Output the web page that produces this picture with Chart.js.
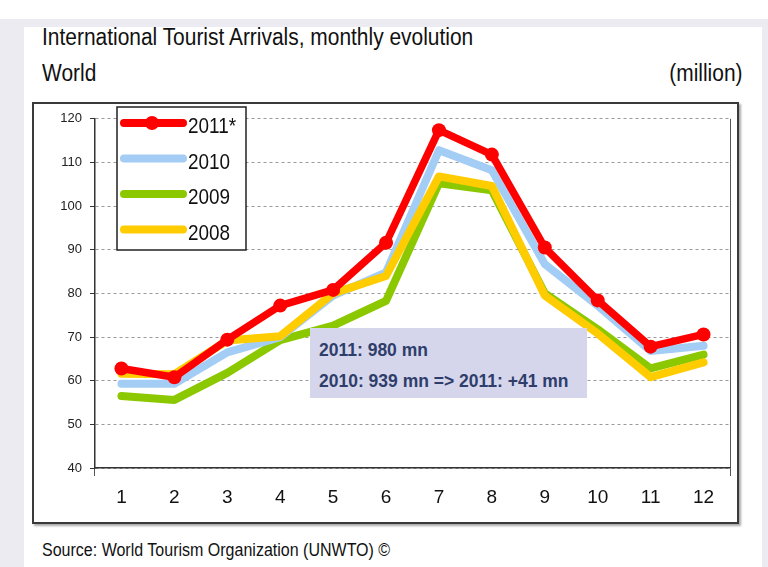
<!DOCTYPE html>
<html>
<head>
<meta charset="utf-8">
<script src="https://cdn.jsdelivr.net/npm/chart.js@4"></script>
<style>
  html, body { margin: 0; padding: 0; }
  body { width: 768px; height: 567px; overflow: hidden; background: #fff; position: relative;
         font-family: "Liberation Sans", Arial, sans-serif; color: #111; }
  .bg { position: absolute; left: 0; top: 19px; width: 768px; height: 548px; background: #ebebf1; }
  .panel { position: absolute; left: 24px; top: 27px; width: 738px; height: 540px; background: #fff; }
  .txt { position: absolute; white-space: nowrap; transform-origin: left center; }
  #title { left: 42px; top: 24px; font-size: 23px; transform: scaleX(0.91); }
  #sub { left: 42px; top: 60px; font-size: 23px; transform: scaleX(0.91); }
  #unit { right: 26px; top: 60px; font-size: 23px; transform: scaleX(0.91); transform-origin: right center; }
  #source { left: 42px; top: 540px; font-size: 17.5px; transform: scaleX(0.915); }
  .frame { position: absolute; left: 32px; top: 102px; width: 707px; height: 422px; box-sizing: border-box;
           border: 2px solid #3a3a3a; box-shadow: 2px 2px 2px #aaa; background: #fff; }
  .wrap { position: absolute; left: 33px; top: 103px; width: 704px; height: 419px; }
  .note { position: absolute; left: 310px; top: 328px; width: 277px; height: 70px; background: #d5d6eb;
          font-weight: bold; font-size: 17.5px; color: #2f3d6b; }
  .note div { position: absolute; left: 9px; white-space: nowrap; }
</style>
</head>
<body>
<div class="bg"></div>
<div class="panel"></div>
<div class="txt" id="title">International Tourist Arrivals, monthly evolution</div>
<div class="txt" id="sub">World</div>
<div class="txt" id="unit">(million)</div>
<div class="frame"></div>
<div class="wrap"><canvas id="chart" width="704" height="419"></canvas></div>
<div class="note">
  <div style="top: 12px;">2011: 980 mn</div>
  <div style="top: 43px;">2010: 939 mn =&gt; 2011: +41 mn</div>
</div>
<div class="txt" id="source">Source: World Tourism Organization (UNWTO) ©</div>

<script>
const months = ["1","2","3","4","5","6","7","8","9","10","11","12"];

// million arrivals
const arrivals2011 = [62.8, 60.8, 69.4, 77.2, 80.8, 91.6, 117.4, 111.8, 90.5, 78.4, 67.8, 70.6];
const arrivals2010 = [59.3, 59.3, 66.5, 70.0, 79.5, 84.8, 112.8, 108.2, 86.7, 77.2, 66.8, 68.0];
const arrivals2009 = [56.5, 55.6, 61.8, 69.3, 72.6, 78.3, 105.2, 103.6, 80.0, 71.8, 62.8, 66.0];
const arrivals2008 = [61.6, 61.5, 69.2, 70.2, 80.0, 84.0, 106.8, 104.6, 79.5, 70.8, 60.8, 64.2];

const seriesLabels = ["2011*", "2010", "2009", "2008"];
const yTicks = { min: 40, max: 120, step: 10 };

const SANS = '"Liberation Sans", Arial, sans-serif';

// legend box drawn inside the plot, top-left
const boxLegend = {
  id: "boxLegend",
  afterDatasetsDraw(chart) {
    const ctx = chart.ctx;
    const x = 84, y = 4, w = 129, h = 143;
    ctx.save();
    ctx.fillStyle = "#fff";
    ctx.fillRect(x, y, w, h);
    ctx.strokeStyle = "#222";
    ctx.lineWidth = 1.5;
    ctx.strokeRect(x, y, w, h);
    chart.data.datasets.forEach((ds, i) => {
      const cy = 20 + i * 35.5;
      ctx.strokeStyle = ds.borderColor;
      ctx.lineWidth = 8;
      ctx.lineCap = "round";
      ctx.beginPath();
      ctx.moveTo(91, cy);
      ctx.lineTo(150, cy);
      ctx.stroke();
      if (ds.pointRadius > 0) {
        ctx.fillStyle = ds.borderColor;
        ctx.beginPath();
        ctx.arc(119, cy, 7, 0, Math.PI * 2);
        ctx.fill();
      }
      // narrow-looking text: scale a regular face horizontally
      ctx.save();
      ctx.translate(155, cy + 4);
      ctx.scale(0.86, 1);
      ctx.fillStyle = "#111";
      ctx.font = "22px " + SANS;
      ctx.textBaseline = "middle";
      ctx.fillText(ds.label, 0, 0);
      ctx.restore();
    });
    ctx.restore();
  }
};

new Chart(document.getElementById("chart"), {
  type: "line",
  data: {
    labels: months,
    datasets: [
      { label: seriesLabels[0], data: arrivals2011, borderColor: "#ff0000", backgroundColor: "#ff0000",
        borderWidth: 7.5, pointRadius: 7, pointBackgroundColor: "#ff0000", pointBorderWidth: 0, order: 0 },
      { label: seriesLabels[1], data: arrivals2010, borderColor: "#a3cdf5", borderWidth: 8, pointRadius: 0, order: 2 },
      { label: seriesLabels[2], data: arrivals2009, borderColor: "#8cc800", borderWidth: 8, pointRadius: 0, order: 3 },
      { label: seriesLabels[3], data: arrivals2008, borderColor: "#ffcc00", borderWidth: 8, pointRadius: 0, order: 1 },
    ]
  },
  options: {
    responsive: false,
    animation: false,
    layout: { padding: { top: 14, right: 5, left: 0, bottom: 0 } },
    elements: { line: { tension: 0, borderJoinStyle: "round", borderCapStyle: "round" } },
    plugins: { legend: { display: false }, tooltip: { enabled: false } },
    scales: {
      x: {
        offset: true,
        afterFit: (s) => { s.height = 54; },
        grid: {
          offset: true,
          drawOnChartArea: true,
          tickLength: 8,
          color: (c) => (c.type === "scale" || c.index === 0) ? "#555" : "rgba(0,0,0,0)",
        },
        border: { color: "#333", width: 1.5 },
        ticks: { color: "#111", padding: 10, font: { family: SANS, size: 19 } }
      },
      y: {
        min: yTicks.min,
        max: yTicks.max,
        afterFit: (s) => { s.width = 62; },
        grid: { color: "#9a9a9a", tickColor: "#333", tickLength: 5 },
        border: { color: "#333", width: 1.5, dash: [3, 3] },
        ticks: { stepSize: yTicks.step, color: "#222", padding: 8, font: { family: SANS, size: 13 } }
      }
    }
  },
  plugins: [boxLegend]
});
</script>
</body>
</html>
